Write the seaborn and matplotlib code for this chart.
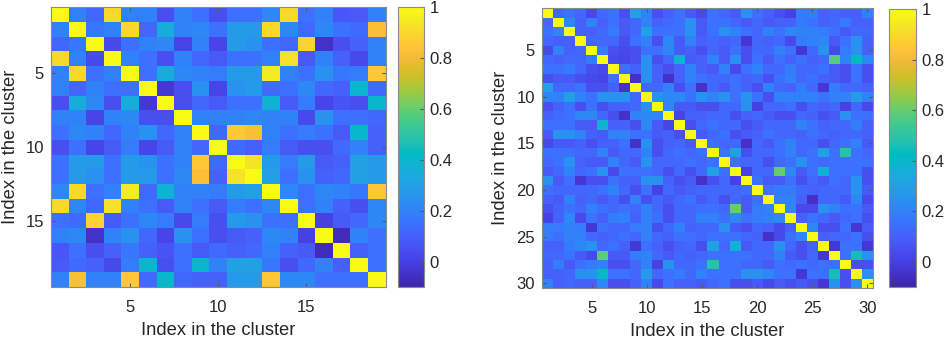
import numpy as np
import matplotlib
matplotlib.use("Agg")
import matplotlib.pyplot as plt
import seaborn as sns
from matplotlib.colors import LinearSegmentedColormap

# lower triangle of the 19x19 matrix (row 2..19, columns 1..row-1), diagonal = 1
left_lower = [
    [0.20],
    [0.12, 0.17],
    [0.90, 0.20, 0.03],
    [0.20, 0.90, 0.15, 0.20],
    [0.20, 0.12, 0.20, 0.15, 0.15],
    [0.05, 0.35, 0.22, 0.05, 0.35, -0.03],
    [0.20, 0.20, 0.02, 0.20, 0.22, 0.05, 0.05],
    [0.15, 0.22, 0.20, 0.12, 0.20, 0.25, 0.12, 0.20],
    [0.05, 0.15, 0.02, 0.08, 0.18, 0.02, 0.08, 0.20, 0.12],
    [0.15, 0.28, 0.28, 0.15, 0.28, 0.25, 0.15, 0.20, 0.85, 0.13],
    [0.15, 0.28, 0.25, 0.15, 0.28, 0.28, 0.15, 0.22, 0.82, 0.10, 0.93],
    [0.22, 0.90, 0.15, 0.20, 0.95, 0.13, 0.38, 0.20, 0.20, 0.18, 0.28, 0.30],
    [0.90, 0.22, 0.12, 0.92, 0.20, 0.15, 0.08, 0.20, 0.15, 0.08, 0.18, 0.15, 0.22],
    [0.15, 0.13, 0.88, 0.08, 0.15, 0.22, 0.18, 0.03, 0.18, 0.05, 0.28, 0.25, 0.15, 0.15],
    [0.20, 0.22, -0.05, 0.20, 0.25, 0.12, 0.02, 0.25, 0.15, 0.05, 0.08, 0.10, 0.22, 0.20, 0.00],
    [0.07, 0.15, 0.05, 0.10, 0.17, 0.10, 0.06, 0.15, 0.08, 0.13, 0.10, 0.12, 0.20, 0.10, 0.08, -0.07],
    [0.08, 0.13, 0.10, 0.03, 0.18, 0.40, 0.05, 0.15, 0.40, 0.20, 0.30, 0.30, 0.17, 0.05, 0.12, 0.20, 0.10],
    [0.20, 0.82, 0.20, 0.20, 0.85, 0.13, 0.40, 0.12, 0.10, 0.10, 0.28, 0.28, 0.85, 0.22, 0.22, 0.15, 0.15, 0.15],
]

# lower triangle of the 30x30 matrix
right_lower = [
    [0.12],
    [0.15, 0.22],
    [0.12, 0.10, 0.10],
    [0.03, 0.20, 0.10, 0.12],
    [0.12, 0.10, 0.13, 0.12, 0.18],
    [0.15, 0.15, 0.18, 0.12, 0.05, 0.03],
    [0.05, 0.08, 0.08, 0.05, 0.03, 0.02, 0.15],
    [0.30, 0.12, 0.12, 0.15, 0.05, 0.05, 0.10, -0.05],
    [0.20, 0.20, 0.30, 0.20, 0.15, 0.25, 0.25, 0.25, 0.12],
    [0.05, 0.10, 0.15, 0.05, 0.15, 0.05, 0.10, 0.10, 0.12, 0.25],
    [0.10, 0.13, 0.15, 0.22, 0.22, 0.12, 0.05, -0.05, 0.20, 0.22, 0.22],
    [0.15, 0.15, 0.15, 0.08, 0.08, 0.38, 0.10, 0.10, 0.05, 0.22, 0.08, 0.02],
    [0.08, 0.25, 0.25, 0.20, 0.10, 0.08, 0.20, 0.20, 0.15, 0.15, 0.08, 0.10, 0.05],
    [0.03, 0.08, 0.08, 0.10, 0.05, 0.10, 0.10, 0.15, -0.05, 0.25, 0.05, 0.10, 0.12, 0.08],
    [0.15, 0.15, 0.15, 0.12, 0.12, 0.20, 0.08, 0.12, 0.12, 0.20, 0.05, 0.12, 0.15, 0.12, 0.15],
    [0.12, 0.15, 0.25, 0.10, 0.08, 0.08, 0.20, 0.12, 0.08, 0.25, 0.12, 0.12, 0.12, 0.15, 0.12,
     0.15],
    [0.08, 0.12, 0.20, 0.12, 0.15, 0.25, 0.03, 0.15, 0.15, 0.15, 0.12, 0.05, 0.12, 0.05, 0.12,
     0.30, 0.15],
    [0.25, 0.08, 0.15, -0.03, 0.05, 0.05, 0.15, 0.10, 0.10, 0.25, 0.25, 0.10, 0.05, 0.08, -0.05,
     0.05, 0.12, 0.00],
    [0.15, 0.12, 0.12, 0.12, 0.12, 0.15, 0.20, 0.12, 0.05, 0.15, 0.00, 0.12, 0.08, 0.10, 0.12,
     0.12, 0.12, 0.12, 0.15],
    [0.10, 0.08, 0.20, 0.10, 0.12, 0.08, 0.12, 0.05, 0.20, 0.05, 0.12, 0.08, 0.12, 0.15, 0.08,
     0.12, 0.05, 0.12, 0.08, 0.15],
    [0.05, 0.10, 0.15, 0.12, 0.20, 0.15, 0.12, 0.15, 0.12, 0.20, 0.12, 0.05, 0.12, 0.12, 0.15,
     0.15, 0.12, 0.60, 0.08, 0.18, 0.20],
    [0.00, 0.10, 0.22, 0.03, 0.15, 0.10, 0.18, 0.20, 0.10, 0.20, 0.15, 0.05, 0.12, 0.12, 0.20,
     0.20, 0.15, 0.22, 0.15, 0.18, 0.20, 0.22],
    [0.18, 0.18, 0.20, 0.18, -0.03, 0.15, 0.12, 0.12, 0.18, 0.20, 0.05, 0.12, 0.20, 0.10, 0.12,
     0.12, 0.25, 0.08, 0.05, 0.12, 0.10, 0.03, 0.10],
    [0.18, 0.15, 0.20, 0.20, 0.12, 0.10, 0.12, 0.15, 0.12, 0.20, 0.12, 0.10, 0.15, 0.15, 0.12,
     0.15, 0.15, 0.15, 0.12, 0.10, -0.05, 0.03, 0.15, 0.22],
    [0.10, 0.10, 0.18, 0.22, 0.25, 0.12, 0.15, 0.10, -0.03, 0.15, 0.10, 0.05, 0.10, 0.12, 0.05,
     0.30, 0.12, 0.38, 0.08, 0.12, 0.12, 0.25, 0.12, 0.05, 0.10],
    [0.12, 0.12, 0.15, 0.08, 0.03, 0.58, 0.08, 0.08, 0.18, 0.20, 0.12, 0.08, 0.12, 0.10, 0.12,
     0.15, 0.15, 0.15, 0.15, 0.12, 0.12, 0.20, 0.08, 0.05, 0.12, -0.03],
    [0.10, 0.18, 0.08, 0.15, 0.18, 0.20, 0.05, 0.05, 0.12, 0.20, 0.00, 0.25, 0.12, 0.12, 0.15,
     0.48, 0.15, 0.15, 0.12, 0.12, 0.08, 0.15, 0.12, 0.15, 0.12, 0.15, 0.15],
    [0.10, 0.10, 0.12, 0.25, 0.25, 0.42, 0.15, 0.15, 0.12, 0.28, 0.12, 0.15, 0.18, 0.12, 0.20,
     0.15, 0.15, 0.15, 0.25, 0.25, 0.22, 0.15, 0.15, -0.03, 0.15, 0.15, 0.45, 0.05],
    [0.20, 0.10, 0.12, 0.10, 0.10, 0.22, 0.05, 0.05, 0.10, 0.20, 0.03, 0.15, 0.10, 0.10, 0.08,
     0.12, 0.15, 0.05, 0.05, 0.08, 0.03, 0.08, 0.05, 0.08, 0.05, -0.03, 0.25, 0.05, 0.25],
]

left_ticks = [5, 10, 15]
right_ticks = [5, 10, 15, 20, 25, 30]
cbar_ticks = [0, 0.2, 0.4, 0.6, 0.8, 1]
cbar_labels = ["0", "0.2", "0.4", "0.6", "0.8", "1"]
axis_label = "Index in the cluster"

# MATLAB parula (R2017a+), every third of the 64 entries
parula_pts = [
    (0.2422, 0.1504, 0.6603), (0.2647, 0.1978, 0.7952), (0.2783, 0.2559, 0.8991),
    (0.2810, 0.3228, 0.9579), (0.2699, 0.3892, 0.9906), (0.2206, 0.4603, 0.9973),
    (0.1786, 0.5289, 0.9682), (0.1540, 0.5902, 0.9218), (0.1248, 0.6459, 0.8883),
    (0.0689, 0.6948, 0.8394), (0.0067, 0.7312, 0.7660), (0.1408, 0.7584, 0.6842),
    (0.2161, 0.7843, 0.5923), (0.3406, 0.8008, 0.4789), (0.5044, 0.7993, 0.3480),
    (0.6720, 0.7793, 0.2227), (0.8203, 0.7498, 0.1535), (0.9393, 0.7288, 0.2100),
    (0.9970, 0.7659, 0.2199), (0.9786, 0.8386, 0.1766), (0.9597, 0.9135, 0.1423),
    (0.9769, 0.9839, 0.0805),
]
parula_idx = list(range(0, 63, 3)) + [63]
parula = LinearSegmentedColormap.from_list(
    "parula", [(i / 63, c) for i, c in zip(parula_idx, parula_pts)], N=256)


def build(lower):
    n = len(lower) + 1
    m = np.eye(n)
    for i, row in enumerate(lower, start=1):
        m[i, :i] = row
        m[:i, i] = row
    return m


plt.rcParams["font.family"] = ["Liberation Sans", "DejaVu Sans"]
edge = "#8a8a8a"
txt = "#262626"

fig = plt.figure(figsize=(9.45, 3.41), dpi=100)
panels = [
    (build(left_lower), left_ticks, [0.054, 0.158, 0.354, 0.821], [0.421, 0.158, 0.0275, 0.821]),
    (build(right_lower), right_ticks, [0.5735, 0.155, 0.3503, 0.821], [0.9407, 0.158, 0.0286, 0.815]),
]

for mat, ticks, pos, cpos in panels:
    ax = fig.add_axes(pos)
    cax = fig.add_axes(cpos)
    sns.heatmap(mat, ax=ax, cbar_ax=cax, cmap=parula, vmin=-0.1, vmax=1,
                xticklabels=False, yticklabels=False, cbar_kws={"ticks": cbar_ticks})
    tpos = np.array(ticks) - 0.5
    ax.set_xticks(tpos)
    ax.set_xticklabels([str(t) for t in ticks])
    ax.set_yticks(tpos)
    ax.set_yticklabels([str(t) for t in ticks], rotation=0)
    ax.tick_params(direction="in", length=3, width=0.8, top=True, right=True,
                   color="#5a5a5a", labelcolor=txt, labelsize=12, pad=5)
    ax.tick_params(axis="x", pad=9)
    for s in ax.spines.values():
        s.set_visible(True)
        s.set_color(edge)
        s.set_linewidth(0.8)
    ax.set_xlabel(axis_label, fontsize=13.2, color=txt, labelpad=5.5)
    ax.set_ylabel(axis_label, fontsize=13.2, color=txt, labelpad=5)

    cb = ax.collections[0].colorbar
    cb.set_ticklabels(cbar_labels)
    cb.outline.set_linewidth(0.8)
    cb.outline.set_edgecolor(edge)
    cax.tick_params(direction="in", length=3, width=0.8, color="#5a5a5a",
                    labelcolor=txt, labelsize=12, pad=4)

fig.savefig("out.png", dpi=100)
